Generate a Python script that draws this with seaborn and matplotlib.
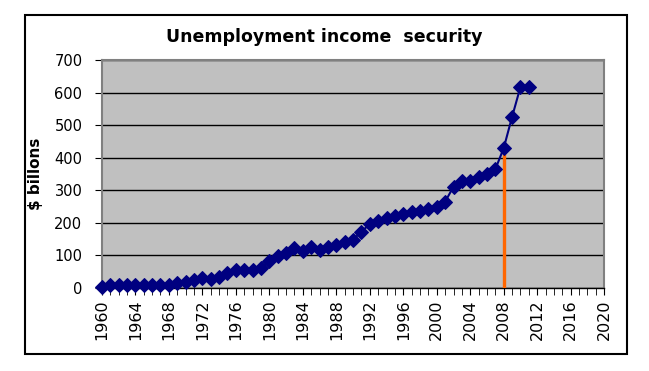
import matplotlib
matplotlib.use("Agg")
import numpy as np
import pandas as pd
import matplotlib.pyplot as plt
import seaborn as sns
from matplotlib.patches import Rectangle
from matplotlib.ticker import MultipleLocator

# data ($ billions)
years = [1960, 1961, 1962, 1963, 1964, 1965, 1966, 1967, 1968, 1969,
         1970, 1971, 1972, 1973, 1974, 1975, 1976, 1977, 1978, 1979,
         1980, 1981, 1982, 1983, 1984, 1985, 1986, 1987, 1988, 1989,
         1990, 1991, 1992, 1993, 1994, 1995, 1996, 1997, 1998, 1999,
         2000, 2001, 2002, 2003, 2004, 2005, 2006, 2007, 2008, 2009,
         2010, 2011]
values = [3, 10, 10, 10, 10, 10, 10, 10, 8, 14,
          18, 24, 30, 27, 33, 47, 55, 55, 56, 60,
          82, 97, 106, 122, 112, 127, 117, 125, 132, 140,
          148, 173, 196, 207, 216, 221, 227, 233, 237, 242,
          250, 265, 311, 330, 328, 342, 350, 365, 430, 526,
          618, 618]
highlight_year = 2008
x_ticks = list(range(1960, 2021, 4))
y_ticks = [0, 100, 200, 300, 400, 500, 600, 700]

df = pd.DataFrame({"year": years, "value": values})

sns.set_style("white")
plt.rcParams["font.family"] = ["DejaVu Sans"]
plt.rcParams["text.color"] = "black"
plt.rcParams["axes.labelcolor"] = "black"
plt.rcParams["xtick.color"] = "black"
plt.rcParams["ytick.color"] = "black"

fig = plt.figure(figsize=(6.49, 3.71), dpi=100)
ax = fig.add_axes([0.157, 0.224, 0.774, 0.614])
ax.set_facecolor("#C0C0C0")

# orange marker line for 2008
hv = df.loc[df["year"] == highlight_year, "value"].iloc[0]
ax.vlines(highlight_year, 0, hv, color="#FF6600", lw=2.4, zorder=3)

sns.lineplot(data=df, x="year", y="value", ax=ax, color="#000080",
             marker="D", markersize=7, markeredgecolor="#000080",
             lw=1.5, zorder=4, clip_on=False)

ax.set_xlim(1960, 2020)
ax.set_ylim(0, 700)
ax.set_xticks(x_ticks)
ax.set_xticklabels([str(t) for t in x_ticks], rotation=90, fontsize=11.5)
ax.xaxis.set_minor_locator(MultipleLocator(1))
ax.set_yticks(y_ticks)
ax.set_yticklabels([str(t) for t in y_ticks], fontsize=10.5)
ax.tick_params(axis="both", which="both", direction="out", color="black",
               bottom=True, left=True)
ax.tick_params(axis="x", which="major", length=5, pad=3)
ax.tick_params(axis="x", which="minor", length=5)
ax.tick_params(axis="y", length=5, pad=9)

ax.yaxis.grid(True, color="black", lw=1)
ax.set_axisbelow(True)
for side in ["top", "right", "left"]:
    ax.spines[side].set_color("#808080")
    ax.spines[side].set_linewidth(1.5)
ax.spines["bottom"].set_color("black")
ax.spines["bottom"].set_linewidth(1)

ax.set_xlabel("")
ax.set_ylabel("$ billons", fontsize=11, fontweight="bold", labelpad=8)

fig.text(0.5, 0.9, "Unemployment income  security", ha="center", va="center",
         fontsize=12.5, fontweight="bold")

# outer chart border
fig.patches.append(Rectangle((0.0385, 0.0458), 0.9276, 0.9137,
                             transform=fig.transFigure, fill=False,
                             edgecolor="black", lw=1.5))

fig.savefig("out.png", dpi=100)
